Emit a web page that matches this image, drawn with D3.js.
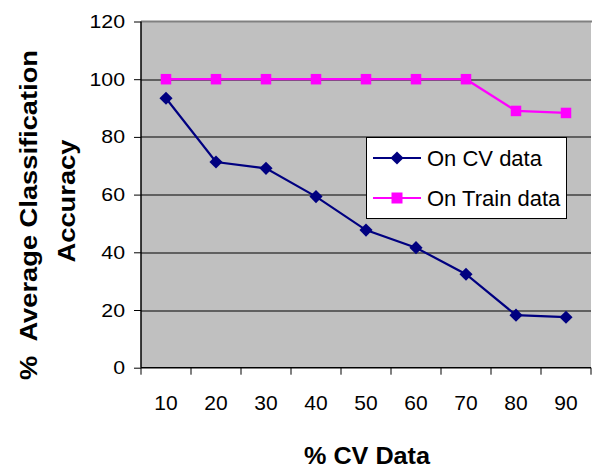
<!DOCTYPE html>
<meta charset="utf-8">
<script src="https://d3js.org/d3.v7.min.js"></script>
<style>
  body { margin: 0; background: #fff; }
  text { font-family: Arial, "Liberation Sans", sans-serif; fill: #000; }
</style>
<div id="chart"></div>
<script>
// data
var categories = ["10", "20", "30", "40", "50", "60", "70", "80", "90"];
var cvData = [93.4, 71.3, 69.1, 59.3, 47.7, 41.6, 32.4, 18.2, 17.5];
var trainData = [100, 100, 100, 100, 100, 100, 100, 89, 88.3];
var yTicks = [0, 20, 40, 60, 80, 100, 120];
var seriesNames = ["On CV data", "On Train data"];

var W = 592, H = 468;
var margin = {top: 21.5, right: 1, bottom: 100.3, left: 141};
var width = W - margin.left - margin.right,
    height = H - margin.top - margin.bottom;

// stretch text a bit wider, like the original picture
function stretch(sel, k) {
  sel.each(function() {
    var w = this.getComputedTextLength();
    d3.select(this).attr("textLength", w * k).attr("lengthAdjust", "spacingAndGlyphs");
  });
}

var svg = d3.select("#chart").append("svg")
    .attr("width", W)
    .attr("height", H);

var g = svg.append("g")
    .attr("transform", "translate(" + margin.left + "," + margin.top + ")");

var x = d3.scaleBand().domain(categories).range([0, width]);
var y = d3.scaleLinear().domain([0, 120]).range([height, 0]);

// plot background
g.append("rect")
    .attr("width", width).attr("height", height)
    .style("fill", "#c0c0c0");

// gridlines
g.selectAll(".grid")
    .data(yTicks.filter(function(d) { return d > 0 && d < 120; }))
    .enter().append("line")
    .attr("x1", 0).attr("x2", width)
    .attr("y1", function(d) { return Math.round(y(d)) + 0.5; })
    .attr("y2", function(d) { return Math.round(y(d)) + 0.5; })
    .style("stroke", "#000").style("stroke-width", 1);

// top border
g.append("line")
    .attr("x1", 0).attr("x2", width + 1)
    .attr("y1", 0).attr("y2", 0)
    .style("stroke", "#808080").style("stroke-width", 2);

// y axis
var yAxis = g.append("g")
    .call(d3.axisLeft(y).tickValues(yTicks).tickSize(7).tickPadding(9));
yAxis.select(".domain").remove();
yAxis.append("line").attr("x1", 0).attr("x2", 0).attr("y1", 0).attr("y2", height)
    .style("stroke", "#000").style("stroke-width", 1.5);
yAxis.selectAll(".tick line").style("stroke", "#000");
yAxis.selectAll(".tick text")
    .style("font-size", "19px").style("font-family", "Arial, 'Liberation Sans', sans-serif")
    .attr("fill", "#000")
    .call(stretch, 1.12);

// x axis: ticks between categories
var xg = g.append("g").attr("transform", "translate(0," + height + ")");
xg.append("line").attr("x1", 0).attr("x2", width)
    .style("stroke", "#000").style("stroke-width", 1.5);
xg.selectAll(".xtick")
    .data(d3.range(categories.length + 1))
    .enter().append("line")
    .attr("x1", function(i) { return i * x.step(); })
    .attr("x2", function(i) { return i * x.step(); })
    .attr("y1", 0).attr("y2", 7)
    .style("stroke", "#000");
xg.selectAll(".xlabel")
    .data(categories)
    .enter().append("text")
    .attr("x", function(d) { return x(d) + x.bandwidth() / 2; })
    .attr("y", 42)
    .attr("text-anchor", "middle")
    .style("font-size", "21px")
    .text(function(d) { return d; });

// lines
var cx = function(d, i) { return x(categories[i]) + x.bandwidth() / 2; };
var line = d3.line().x(cx).y(function(d) { return y(d); });

g.append("path").datum(trainData)
    .attr("d", line)
    .style("fill", "none").style("stroke", "#ff00ff").style("stroke-width", 2.2);
g.append("path").datum(cvData)
    .attr("d", line)
    .style("fill", "none").style("stroke", "#000080").style("stroke-width", 2.2);

// markers
var sq = 10.5;
g.selectAll(".sq").data(trainData).enter().append("rect")
    .attr("x", function(d, i) { return cx(d, i) - sq / 2; })
    .attr("y", function(d) { return y(d) - sq / 2; })
    .attr("width", sq).attr("height", sq)
    .style("fill", "#ff00ff");

var diamond = d3.symbol().type(d3.symbolDiamond2).size(110);
g.selectAll(".dm").data(cvData).enter().append("path")
    .attr("d", diamond)
    .attr("transform", function(d, i) { return "translate(" + cx(d, i) + "," + y(d) + ")"; })
    .style("fill", "#000080");

// legend
var legend = svg.append("g").attr("transform", "translate(366,137)");
legend.append("rect")
    .attr("x", 0.5).attr("y", 0.5).attr("width", 200).attr("height", 81)
    .style("fill", "#fff").style("stroke", "#000").style("stroke-width", 1);
var colors = ["#000080", "#ff00ff"];
var rows = legend.selectAll(".row").data(seriesNames).enter().append("g")
    .attr("transform", function(d, i) { return "translate(0," + (21 + i * 40) + ")"; });
rows.append("line")
    .attr("x1", 7).attr("x2", 55).attr("y1", 0).attr("y2", 0)
    .style("stroke", function(d, i) { return colors[i]; }).style("stroke-width", 2);
rows.filter(function(d, i) { return i === 0; }).append("path")
    .attr("d", diamond).attr("transform", "translate(31,0)").style("fill", colors[0]);
rows.filter(function(d, i) { return i === 1; }).append("rect")
    .attr("x", 31 - 5.5).attr("y", -5.5).attr("width", 11).attr("height", 11)
    .style("fill", colors[1]);
rows.append("text")
    .attr("x", 61).attr("y", 0).attr("dy", "0.36em")
    .style("font-size", "22px")
    .text(function(d) { return d; });

// axis titles
svg.append("text")
    .attr("x", 367).attr("y", 464)
    .attr("text-anchor", "middle")
    .style("font-size", "24px").style("font-weight", "bold")
    .text("% CV Data")
    .call(stretch, 1.05);

svg.append("text")
    .attr("transform", "translate(37,215) rotate(-90)")
    .attr("text-anchor", "middle")
    .style("font-size", "23px").style("font-weight", "bold")
    .style("white-space", "pre")
    .attr("textLength", 330).attr("lengthAdjust", "spacingAndGlyphs")
    .text("%  Average Classification");
svg.append("text")
    .attr("transform", "translate(75,201) rotate(-90)")
    .attr("text-anchor", "middle")
    .style("font-size", "23px").style("font-weight", "bold")
    .attr("textLength", 123).attr("lengthAdjust", "spacingAndGlyphs")
    .text("Accuracy");
</script>
